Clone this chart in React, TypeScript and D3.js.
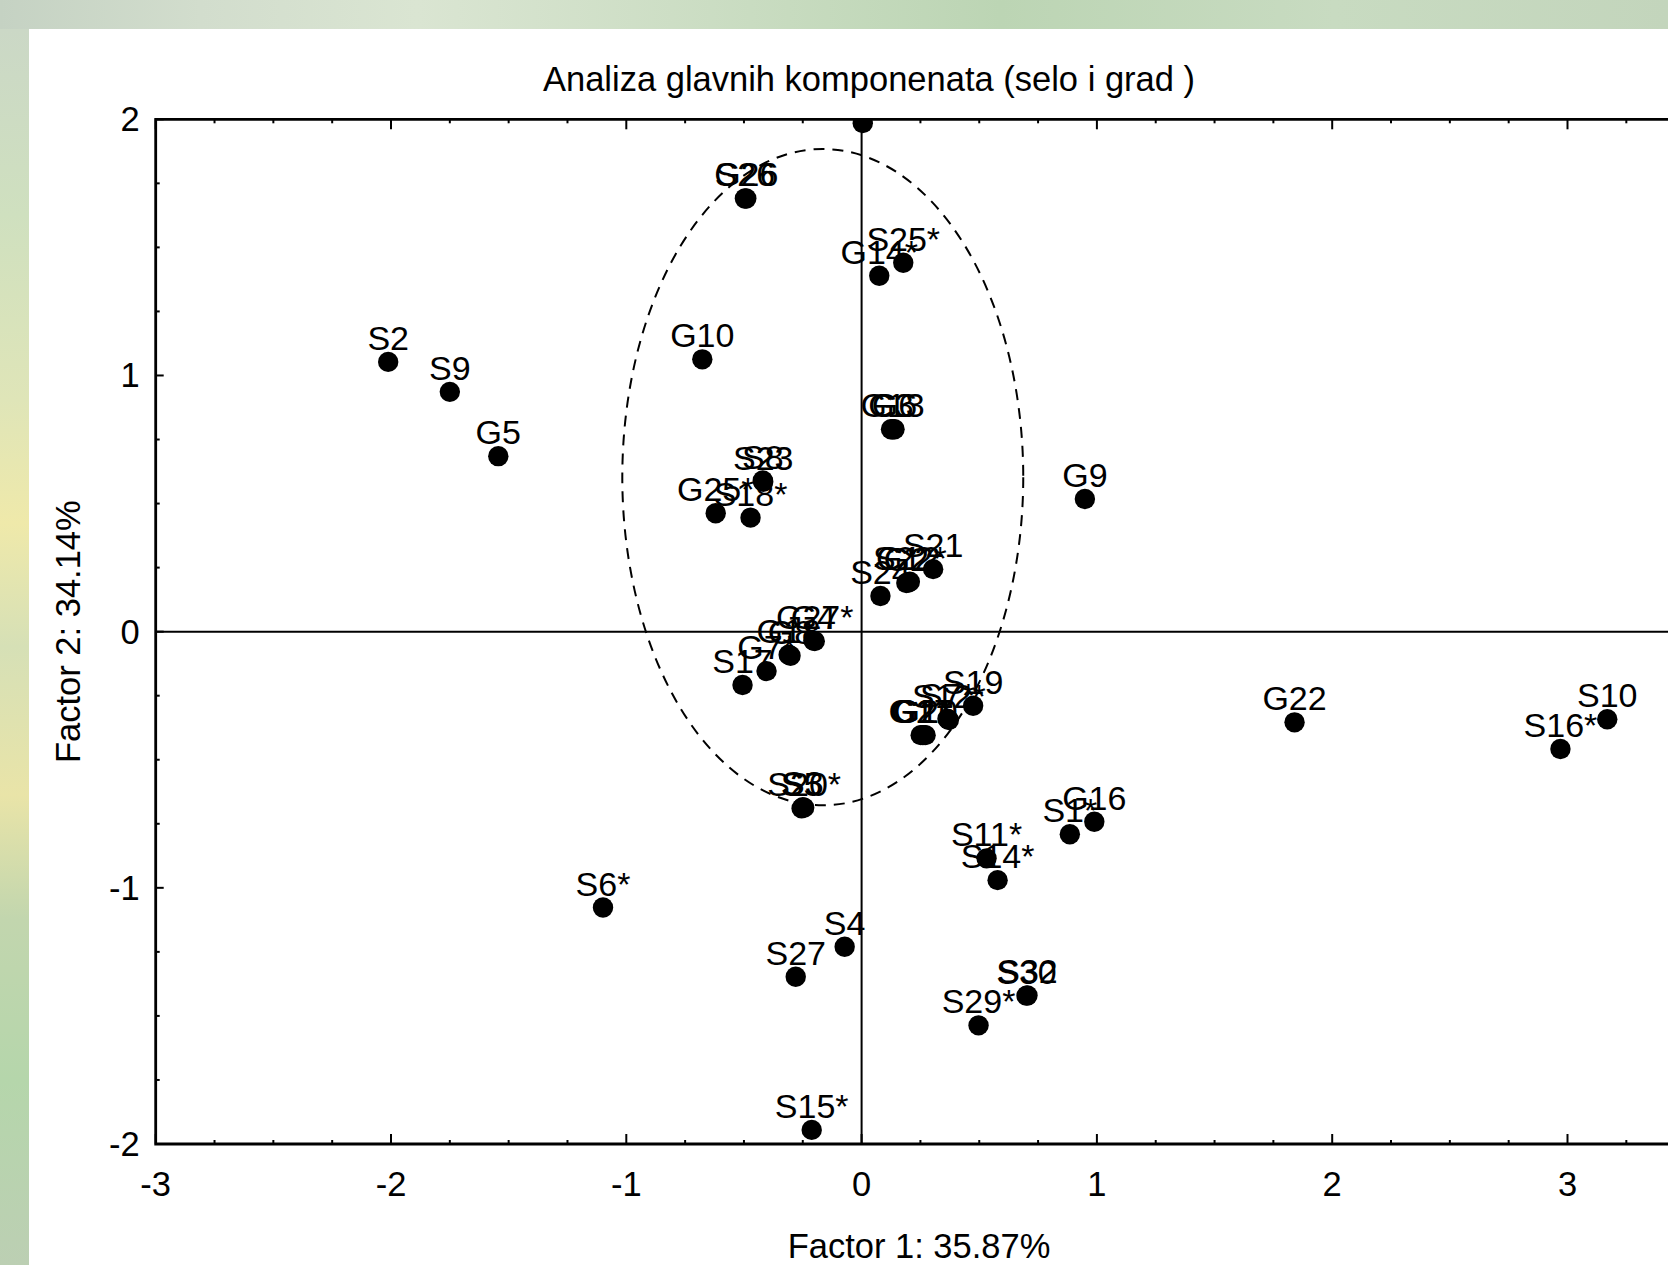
import React, { useEffect, useRef } from 'react'
import * as d3 from 'd3'

// case labels and their factor scores (Factor 1, Factor 2)
const labels = [
  '', 'S26', 'G26', 'S25*', 'G14*', 'G10', 'G13', 'G3', 'G6', 'S23', 'S8',
  'G25*', 'S18*', 'S21', 'G12', 'S22*', 'G2', 'S24', 'G27*', 'G4', 'G8', 'G18',
  'G7*', 'S17', 'S20*', 'S3', 'S5', 'S19', 'S12*', 'S7*', 'G20', 'G11', 'G21',
  'G17', 'S11*', 'S14*', 'S1*', 'G16', 'S2', 'S9', 'G5', 'G9', 'G22', 'S10',
  'S16*', 'S6*', 'S4', 'S27', 'S30', 'S32', 'S29*', 'S15*'
]
const factor1 = [
  0.005, -0.496, -0.49, 0.177, 0.075, -0.677, 0.132, 0.125, 0.14, -0.418, -0.42,
  -0.62, -0.472, 0.304, 0.198, 0.205, 0.19, 0.08, -0.199, -0.205, -0.302, -0.31,
  -0.404, -0.506, -0.244, -0.25, -0.255, 0.474, 0.371, 0.365, 0.272, 0.265, 0.258,
  0.251, 0.531, 0.578, 0.885, 0.989, -2.012, -1.75, -1.544, 0.949, 1.84, 3.169,
  2.97, -1.099, -0.072, -0.28, 0.701, 0.705, 0.497, -0.212
]
const factor2 = [
  1.985, 1.691, 1.691, 1.44, 1.389, 1.063, 0.79, 0.79, 0.79, 0.585, 0.59,
  0.462, 0.445, 0.244, 0.192, 0.195, 0.19, 0.139, -0.037, -0.035, -0.094, -0.09,
  -0.154, -0.208, -0.687, -0.685, -0.69, -0.289, -0.345, -0.34, -0.404, -0.404, -0.404,
  -0.404, -0.885, -0.97, -0.791, -0.742, 1.053, 0.936, 0.685, 0.518, -0.354, -0.342,
  -0.458, -1.077, -1.23, -1.347, -1.421, -1.42, -1.537, -1.945
]
const xTicks = [-3, -2, -1, 0, 1, 2, 3]
const yTicks = [-2, -1, 0, 1, 2]
// dashed ellipse: centre and semi-axes in factor units
const ellipse = { cx: -0.165, cy: 0.603, rx: 0.852, ry: 1.281 }

const W = 1668
const H = 1265
const font = '"Liberation Sans", Arial, sans-serif'

export default function App() {
  const ref = useRef<SVGSVGElement>(null)

  useEffect(() => {
    const svg = d3.select(ref.current)
    svg.selectAll('*').remove()

    // blurred photo border
    const defs = svg.append('defs')
    const topGrad = defs.append('linearGradient').attr('id', 'topBg')
    ;[['0', '#c5d2c3'], ['0.12', '#d2ddcd'], ['0.25', '#dae5d2'], ['0.45', '#c9dcc1'],
      ['0.6', '#bcd5b4'], ['0.8', '#c8dbc1'], ['1', '#c3d5bc']].forEach(([o, c]) =>
      topGrad.append('stop').attr('offset', o).attr('stop-color', c))
    const leftGrad = defs.append('linearGradient').attr('id', 'leftBg')
      .attr('x1', 0).attr('y1', 0).attr('x2', 0).attr('y2', 1)
    ;[['0', '#cbd8c6'], ['0.15', '#cfe0bf'], ['0.3', '#dfe5b8'], ['0.4', '#efe9aa'],
      ['0.5', '#d6e0b6'], ['0.62', '#e9e4a8'], ['0.72', '#c2d6ae'], ['0.85', '#b5d6ab'],
      ['1', '#bccfb3']].forEach(([o, c]) =>
      leftGrad.append('stop').attr('offset', o).attr('stop-color', c))
    svg.append('rect').attr('width', W).attr('height', H).attr('fill', '#fff')
    svg.append('rect').attr('width', W).attr('height', 29).attr('fill', 'url(#topBg)')
    svg.append('rect').attr('y', 29).attr('width', 29).attr('height', H - 29).attr('fill', 'url(#leftBg)')

    const left = 155.7, top = 119.3, bottom = 1144
    const x = d3.scaleLinear().domain([-3, 4]).range([left, left + 7 * 235.3])
    const y = d3.scaleLinear().domain([-2, 2]).range([bottom, top])

    defs.append('clipPath').attr('id', 'plotClip')
      .append('rect').attr('x', left).attr('y', top)
      .attr('width', x(4) - left).attr('height', bottom - top)

    // title
    svg.append('text')
      .attr('x', 869).attr('y', 91)
      .attr('text-anchor', 'middle')
      .style('font-family', font).style('font-size', '34.5px')
      .text('Analiza glavnih komponenata (selo i grad )')

    // zero lines
    svg.append('line').attr('x1', left).attr('x2', x(4)).attr('y1', y(0)).attr('y2', y(0))
      .attr('stroke', '#000').attr('stroke-width', 2)
    svg.append('line').attr('x1', x(0)).attr('x2', x(0)).attr('y1', top).attr('y2', bottom)
      .attr('stroke', '#000').attr('stroke-width', 2)

    // ellipse
    svg.append('ellipse')
      .attr('cx', x(ellipse.cx)).attr('cy', y(ellipse.cy))
      .attr('rx', x(ellipse.rx) - x(0)).attr('ry', y(0) - y(ellipse.ry))
      .attr('fill', 'none').attr('stroke', '#000').attr('stroke-width', 2)
      .attr('stroke-dasharray', '11 8')

    // minor/major ticks, inside
    const minorX = d3.range(-3, 4.01, 0.25)
    const minorY = d3.range(-2, 2.01, 0.25)
    const tg = svg.append('g').attr('stroke', '#000').attr('stroke-width', 2)
    minorX.forEach(v => {
      const len = Number.isInteger(v) ? 10 : 4
      tg.append('line').attr('x1', x(v)).attr('x2', x(v)).attr('y1', top).attr('y2', top + len)
      tg.append('line').attr('x1', x(v)).attr('x2', x(v)).attr('y1', bottom).attr('y2', bottom - len)
    })
    minorY.forEach(v => {
      const len = Number.isInteger(v) ? 8 : 4
      tg.append('line').attr('x1', left).attr('x2', left + len).attr('y1', y(v)).attr('y2', y(v))
    })

    // frame
    svg.append('path')
      .attr('d', `M${x(4)},${top}H${left}V${bottom}H${x(4)}`)
      .attr('fill', 'none').attr('stroke', '#000').attr('stroke-width', 2.8)

    // tick labels
    svg.append('g').selectAll('text').data(xTicks).enter().append('text')
      .attr('x', d => x(d)).attr('y', bottom + 52)
      .attr('text-anchor', 'middle')
      .style('font-family', font).style('font-size', '34.5px')
      .text(d => String(d))
    svg.append('g').selectAll('text').data(yTicks).enter().append('text')
      .attr('x', left - 16).attr('y', d => y(d) + 12)
      .attr('text-anchor', 'end')
      .style('font-family', font).style('font-size', '34.5px')
      .text(d => String(d))

    // axis titles
    svg.append('text')
      .attr('x', 919).attr('y', 1258)
      .attr('text-anchor', 'middle')
      .style('font-family', font).style('font-size', '34.5px')
      .text('Factor 1: 35.87%')
    svg.append('text')
      .attr('transform', `translate(80,${y(0)}) rotate(-90)`)
      .attr('text-anchor', 'middle')
      .style('font-family', font).style('font-size', '34.5px')
      .text('Factor 2: 34.14%')

    // points and labels
    const pts = labels.map((name, i) => ({ name, f1: factor1[i], f2: factor2[i] }))
    const g = svg.append('g').attr('clip-path', 'url(#plotClip)')
    g.selectAll('circle').data(pts).enter().append('circle')
      .attr('cx', d => x(d.f1)).attr('cy', d => y(d.f2))
      .attr('r', 10.2).attr('fill', '#000')
    g.selectAll('text').data(pts.filter(d => d.name)).enter().append('text')
      .attr('x', d => x(d.f1)).attr('y', d => y(d.f2) - 12)
      .attr('text-anchor', 'middle')
      .style('font-family', font).style('font-size', '34px')
      .text(d => d.name)
  }, [])

  return (
    <div style={{ position: 'absolute', left: 0, top: 0 }}>
      <svg ref={ref} width={W} height={H} style={{ display: 'block', overflow: 'hidden' }} />
    </div>
  )
}
